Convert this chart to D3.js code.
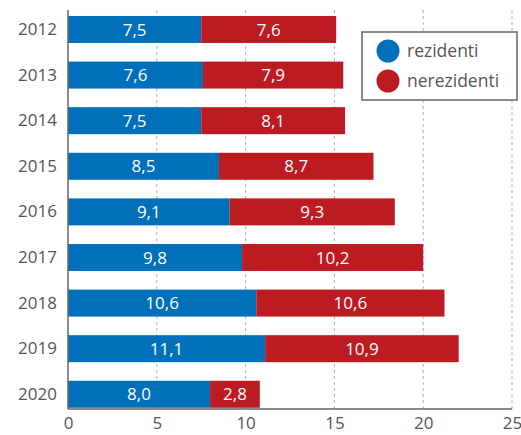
<!DOCTYPE html>
<html>
<head>
<meta charset="utf-8">
<script src="https://cdn.jsdelivr.net/npm/d3@7"></script>
<style>
  body { margin: 0; background: #fff; }
  svg { display: block; font-family: "Open Sans", "Noto Sans", sans-serif; }
</style>
</head>
<body>
<div id="graph"></div>
<script>
// Data
let years = ["2012", "2013", "2014", "2015", "2016", "2017", "2018", "2019", "2020"];
let residents = [7.5, 7.6, 7.5, 8.5, 9.1, 9.8, 10.6, 11.1, 8.0];
let nonResidents = [7.6, 7.9, 8.1, 8.7, 9.3, 10.2, 10.6, 10.9, 2.8];
let seriesNames = ["rezidenti", "nerezidenti"];
let xTicks = [0, 5, 10, 15, 20, 25];

let colors = ["#0070ba", "#bd1b22"];

let graph = {
  width: 521,
  height: 435,
  left: 68,
  right: 512,
  top: 10,
  bottom: 409
};

let svg = d3.select("#graph").append("svg")
  .attr("width", graph.width)
  .attr("height", graph.height);

let xScale = d3.scaleLinear()
  .domain([0, 25])
  .range([graph.left, graph.right]);

let yScale = d3.scaleBand()
  .domain(years)
  .range([graph.top, graph.bottom])
  .paddingInner(0.408)
  .paddingOuter(0.079)
  .align(0.83);

// Dashed grid lines
svg.append("g")
  .selectAll("line")
  .data(xTicks.filter((t) => t > 0))
  .enter().append("line")
  .attr("x1", (d) => xScale(d))
  .attr("x2", (d) => xScale(d))
  .attr("y1", graph.top)
  .attr("y2", graph.bottom)
  .attr("stroke", "#b3b3b3")
  .attr("stroke-width", 1)
  .attr("stroke-dasharray", "3,3");

// Stacked rows
let rows = years.map((y, i) => ({
  year: y,
  parts: [
    { key: 0, start: 0, value: residents[i] },
    { key: 1, start: residents[i], value: nonResidents[i] }
  ]
}));

let fmt = (v) => d3.format(".1f")(v).replace(".", ",");

let row = svg.append("g").selectAll("g")
  .data(rows)
  .enter().append("g");

row.selectAll("rect")
  .data((d) => d.parts.map((p) => Object.assign({ year: d.year }, p)))
  .enter().append("rect")
  .attr("x", (d) => xScale(d.start))
  .attr("y", (d) => yScale(d.year))
  .attr("width", (d) => xScale(d.start + d.value) - xScale(d.start))
  .attr("height", yScale.bandwidth())
  .attr("fill", (d) => colors[d.key]);

row.selectAll("text")
  .data((d) => d.parts.map((p) => Object.assign({ year: d.year }, p)))
  .enter().append("text")
  .attr("x", (d) => xScale(d.start + d.value / 2))
  .attr("y", (d) => yScale(d.year) + yScale.bandwidth() / 2)
  .attr("dy", "0.36em")
  .attr("text-anchor", "middle")
  .attr("fill", "#fff")
  .attr("font-size", 17)
  .text((d) => fmt(d.value));

// Axes
let yAxis = d3.axisLeft(yScale).tickSize(0).tickPadding(11);
let xAxis = d3.axisBottom(xScale).tickValues(xTicks).tickSize(0).tickPadding(8);

let gy = svg.append("g")
  .attr("transform", `translate(${graph.left}, 0)`)
  .call(yAxis);
gy.select(".domain").remove();
gy.selectAll("text").attr("font-size", 17).attr("fill", "#555").attr("font-family", "Open Sans");

let gx = svg.append("g")
  .attr("transform", `translate(0, ${graph.bottom})`)
  .call(xAxis);
gx.select(".domain").remove();
gx.selectAll("text").attr("font-size", 17).attr("fill", "#555").attr("font-family", "Open Sans");

// Axis lines
svg.append("line")
  .attr("x1", graph.left).attr("x2", graph.left)
  .attr("y1", graph.top).attr("y2", graph.bottom)
  .attr("stroke", "#666").attr("stroke-width", 1.5);
svg.append("line")
  .attr("x1", graph.left).attr("x2", graph.right)
  .attr("y1", graph.bottom).attr("y2", graph.bottom)
  .attr("stroke", "#666").attr("stroke-width", 1.5);

// Legend
let legend = svg.append("g");
legend.append("rect")
  .attr("x", 362).attr("y", 32)
  .attr("width", 155).attr("height", 68)
  .attr("fill", "#fff")
  .attr("stroke", "#666")
  .attr("stroke-width", 1.5);

let item = legend.selectAll("g")
  .data(seriesNames)
  .enter().append("g")
  .attr("transform", (d, i) => `translate(388, ${51 + i * 30})`);

item.append("circle")
  .attr("r", 11.5)
  .attr("fill", (d, i) => colors[i]);

item.append("text")
  .attr("x", 19)
  .attr("dy", "0.32em")
  .attr("font-size", 17.5)
  .attr("fill", "#555")
  .text((d) => d);
</script>
</body>
</html>
